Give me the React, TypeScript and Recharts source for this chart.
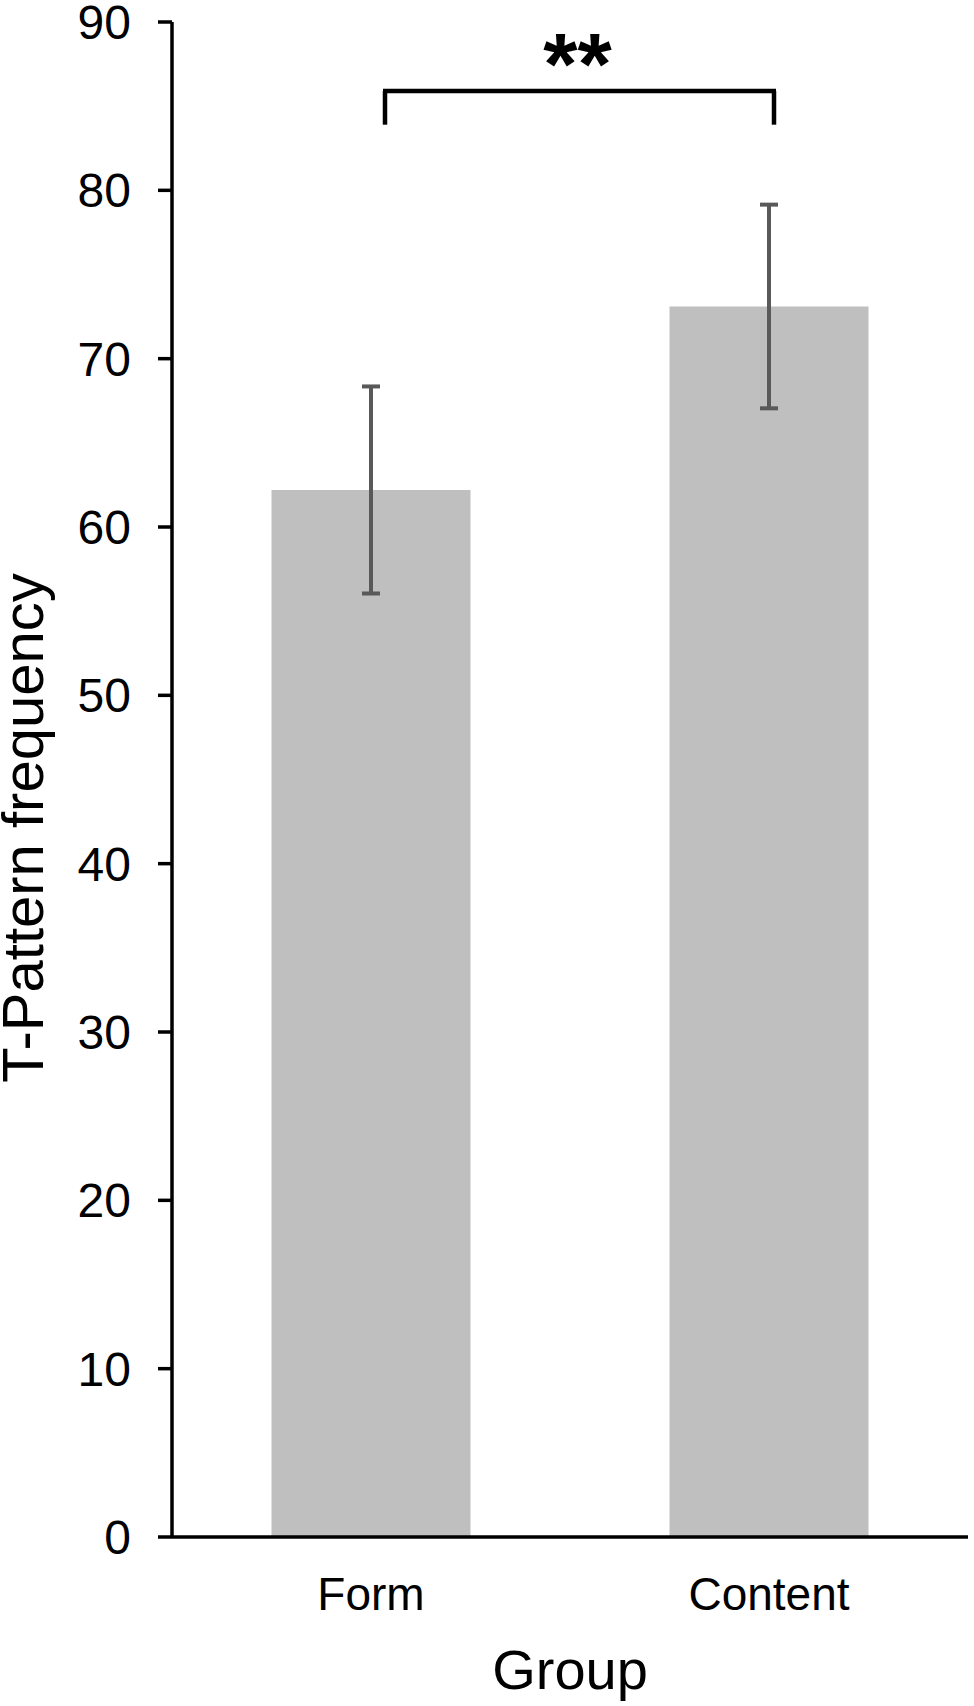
import { Bar, BarChart, ErrorBar, ReferenceLine, XAxis, YAxis } from "recharts";

const groups = ["Form", "Content"];
const means = [62.2, 73.1];
const errors = [6.15, 6.05];
const yTicks = [0, 10, 20, 30, 40, 50, 60, 70, 80, 90];

// significance bracket, in data units
const BRACKET_TOP = 85.9;
const BRACKET_LEG = 83.9;
const STARS = "**";

const FONT = "'Liberation Sans', Arial, Helvetica, sans-serif";
const BAR = "#bfbfbf";
const ERR = "#595959";
const INK = "#000";

const data = groups.map((g, i) => ({ group: g, value: means[i], err: errors[i] }));

// small pixel nudges so the bracket sits as in the figure
const LEFT_NUDGE = 14;
const RIGHT_NUDGE = 5;

const BracketTop = (p: any) => {
  const x1 = p.x1 + LEFT_NUDGE - 2;
  const x2 = p.x2 + RIGHT_NUDGE + 2;
  return (
    <g>
      <line x1={x1} x2={x2} y1={p.y1} y2={p.y2} stroke={INK} strokeWidth={4.5} />
      <text
        x={(x1 + x2) / 2 - 2}
        y={p.y1 + 3}
        textAnchor="middle"
        fontFamily={FONT}
        fontWeight="bold"
        fontSize={88}
        fill={INK}
      >
        {STARS}
      </text>
    </g>
  );
};

const legShape = (nudge: number) => (p: any) => (
  <line x1={p.x1 + nudge} x2={p.x2 + nudge} y1={p.y1} y2={p.y2} stroke={INK} strokeWidth={4.5} />
);

const XTick = ({ x, y, payload }: any) => (
  <text x={x} y={y + 71} textAnchor="middle" fontFamily={FONT} fontSize={46} fill={INK}>
    {payload.value}
  </text>
);

const YTick = ({ x, y, payload }: any) => (
  <text x={x} y={y} dy="0.355em" textAnchor="end" fontFamily={FONT} fontSize={48} fill={INK}>
    {payload.value}
  </text>
);

export default function App() {
  return (
    <div style={{ position: "absolute", left: 0, top: 0, background: "#fff" }}>
      <BarChart
        width={974}
        height={1706}
        data={data}
        margin={{ top: 22, right: 6, bottom: 0, left: 0 }}
        barCategoryGap="25%"
      >
        <XAxis
          dataKey="group"
          height={169}
          tickLine={false}
          tickSize={0}
          axisLine={{ stroke: INK, strokeWidth: 3.5 }}
          tick={<XTick />}
          label={(props: any) => {
            const vb = props.viewBox;
            return (
              <text
                x={vb.x + vb.width / 2}
                y={vb.y + 152}
                textAnchor="middle"
                fontFamily={FONT}
                fontSize={56}
                fill={INK}
              >
                Group
              </text>
            );
          }}
        />
        <YAxis
          width={172}
          domain={[0, 90]}
          ticks={yTicks}
          interval={0}
          tickSize={14}
          tickMargin={27}
          tickLine={{ stroke: INK, strokeWidth: 3.5 }}
          axisLine={{ stroke: INK, strokeWidth: 3.5 }}
          tick={<YTick />}
          label={(props: any) => {
            const vb = props.viewBox;
            return (
              <text
                transform={`translate(43, ${vb.y + 806}) rotate(-90)`}
                textAnchor="middle"
                fontFamily={FONT}
                fontSize={58}
                fill={INK}
              >
                T-Pattern frequency
              </text>
            );
          }}
        />
        <Bar dataKey="value" fill={BAR} isAnimationActive={false}>
          <ErrorBar dataKey="err" width={9} stroke={ERR} strokeWidth={4} isAnimationActive={false} />
        </Bar>
        <ReferenceLine
          segment={[
            { x: groups[0], y: BRACKET_TOP },
            { x: groups[1], y: BRACKET_TOP },
          ]}
          shape={BracketTop}
          ifOverflow="visible"
        />
        <ReferenceLine
          segment={[
            { x: groups[0], y: BRACKET_LEG },
            { x: groups[0], y: BRACKET_TOP },
          ]}
          shape={legShape(LEFT_NUDGE)}
          ifOverflow="visible"
        />
        <ReferenceLine
          segment={[
            { x: groups[1], y: BRACKET_LEG },
            { x: groups[1], y: BRACKET_TOP },
          ]}
          shape={legShape(RIGHT_NUDGE)}
          ifOverflow="visible"
        />
      </BarChart>
    </div>
  );
}
